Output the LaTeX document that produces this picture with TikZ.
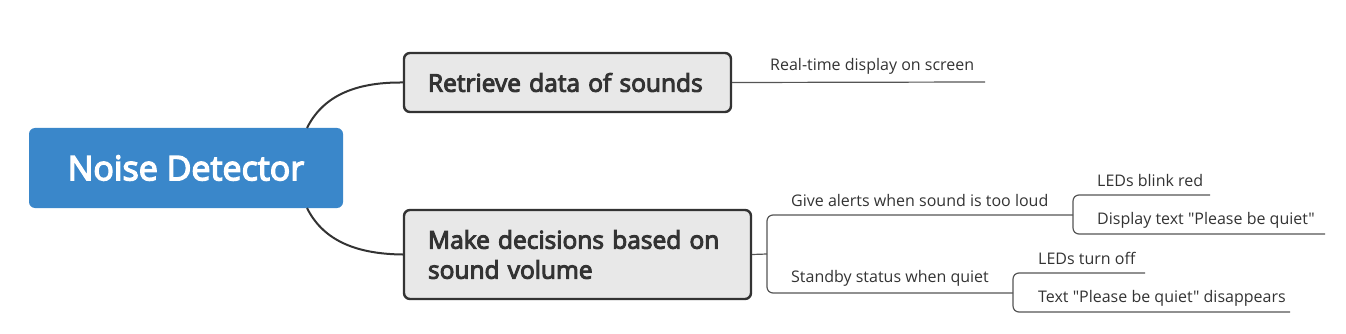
\documentclass[tikz,border=0pt]{standalone}
\usepackage{fontspec}
\setmainfont{Open Sans}[Ligatures=TeXOff]
\newfontfamily\medfont{Open Sans}[Ligatures=TeXOff,FakeBold=4]
\definecolor{rootblue}{HTML}{3A87CA}
\definecolor{boxgray}{HTML}{E8E8E8}
\definecolor{boxline}{HTML}{333333}
\definecolor{subline}{HTML}{555555}
\begin{document}
\begin{tikzpicture}[x=1pt,y=-1pt,
  rootbox/.style={draw=none,fill=rootblue,rounded corners=6pt,text=white,font=\medfont\fontsize{34}{40}\selectfont,inner sep=0pt},
  mainbox/.style={draw=boxline,line width=2.4pt,fill=boxgray,rounded corners=6pt,font=\medfont\fontsize{24.5}{30}\selectfont,text=boxline,align=left,inner xsep=24pt,inner ysep=0pt},
  leaf/.style={anchor=west,inner sep=0pt,font=\fontsize{16}{19}\selectfont,text=boxline},
  trunk/.style={draw=boxline,line width=2pt},
  twig/.style={draw=subline,line width=1.2pt,rounded corners=6pt}]
\useasboundingbox (0,0) rectangle (1346,334);
\node[rootbox,minimum width=314pt,minimum height=80pt] (root) at (186,168) {Noise Detector};
\node[mainbox,minimum width=327pt,minimum height=59pt,text width=279pt] (A) at (567.5,82.5) {Retrieve data of sounds};
\node[mainbox,minimum width=347pt,minimum height=89pt,text width=299pt] (B) at (577.5,254.5) {Make decisions based on\\sound volume};
% curves from root
\coordinate (rt) at (307,128);
\coordinate (rb) at (307,208);
\draw[trunk] (rt) .. controls (322,98) and (352,82) .. (A.west);
\draw[trunk] (rb) .. controls (322,238) and (352,254) .. (B.west);
% leaf texts
\node[leaf] (rd) at (770,66) {Real-time display on screen};
\node[leaf] (ga) at (791,200) {Give alerts when sound is too loud};
\node[leaf] (ss) at (791,278) {Standby status when quiet};
\node[leaf] (lb) at (1097,180) {LEDs blink red};
\node[leaf] (dt) at (1097,220) {Display text "Please be quiet"};
\node[leaf] (lo) at (1038,258) {LEDs turn off};
\node[leaf] (td) at (1038,298) {Text "Please be quiet" disappears};
% connector coordinates
\coordinate (rdE) at (985,82);
\coordinate (bB) at (767,254);
\coordinate (gE) at (1073,215);
\coordinate (sE) at (1013,293);
\coordinate (lbE) at (1210,195);
\coordinate (dtE) at (1325,234);
\coordinate (loE) at (1145,273);
\coordinate (tdE) at (1290,312);
% connectors
\draw[twig] (A.east) -- (rdE);
\draw[twig] (B.east) -- (bB);
\draw[twig] (gE) -| (bB) |- (sE);
\draw[twig] (lbE) -| (gE) |- (dtE);
\draw[twig] (loE) -| (sE) |- (tdE);
\end{tikzpicture}
\end{document}
